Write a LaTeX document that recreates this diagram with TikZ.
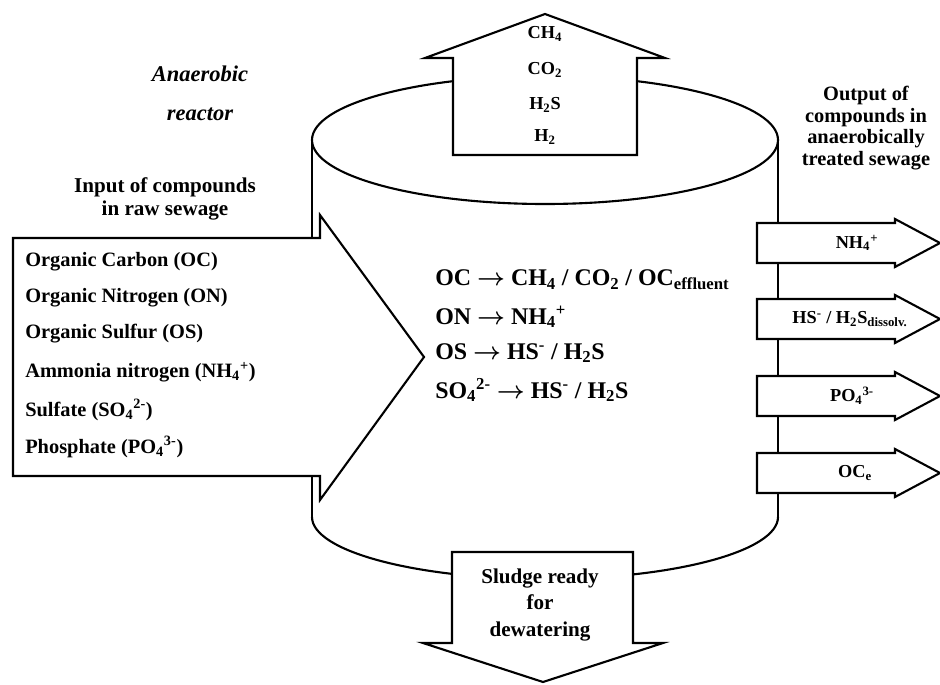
\documentclass[tikz,border=0pt]{standalone}
\usepackage{fontspec}
\setmainfont{Liberation Serif}
\newcommand{\ionsub}[2]{\textsubscript{#1}\textsuperscript{#2}}
\tikzstyle{shell} = [draw, line width=1.5pt]
\tikzstyle{blockarrow} = [draw, line width=1.5pt, fill=white, line join=miter]
\tikzstyle{headtext} = [font=\fontsize{15}{16}\selectfont\bfseries, align=center, inner sep=0pt]
\tikzstyle{reactortext} = [font=\fontsize{16}{28}\selectfont\bfseries\itshape, align=center, inner sep=0pt]
\tikzstyle{listtext} = [font=\fontsize{14.5}{16}\selectfont\bfseries, anchor=west, inner sep=0pt]
\tikzstyle{eqtext} = [font=\fontsize{17}{20}\selectfont\bfseries, anchor=west, inner sep=0pt]
\tikzstyle{gastext} = [font=\fontsize{13}{15}\selectfont\bfseries, inner sep=0pt]
\tikzstyle{outtext} = [font=\fontsize{13}{15}\selectfont\bfseries, inner sep=0pt]
\begin{document}
\begin{tikzpicture}[x=0.025cm, y=-0.025cm]
    \useasboundingbox (0,0) rectangle (940,684);

    % Reactor body
    \draw [shell] (545,140) ellipse [x radius=233, y radius=64];
    \draw [shell] (312,140) -- (312,517);
    \draw [shell] (778,140) -- (778,517);
    \draw [shell] (312,517) arc [start angle=180, end angle=0, x radius=233, y radius=62];

    % Gas outlet
    \draw [blockarrow] (453,155) -- (453,58) -- (425,58) -- (545,14) -- (665,58) -- (637,58) -- (637,155) -- cycle;

    % Sludge outlet
    \draw [blockarrow] (452,552) -- (633,552) -- (633,643) -- (663,643) -- (543,682) -- (423,643) -- (452,643) -- cycle;

    % Input arrow
    \draw [blockarrow] (13,238) -- (320,238) -- (320,215) -- (424,357) -- (320,500) -- (320,476) -- (13,476) -- cycle;

    % Output arrows, named from the top
    \draw [blockarrow] (757,223) -- (895,223) -- (895,219) -- (940,243) -- (895,267) -- (895,263) -- (757,263) -- cycle;
    \draw [blockarrow] (757,299) -- (895,299) -- (895,295) -- (940,319) -- (895,343) -- (895,339) -- (757,339) -- cycle;
    \draw [blockarrow] (757,376) -- (895,376) -- (895,372) -- (940,396) -- (895,420) -- (895,416) -- (757,416) -- cycle;
    \draw [blockarrow] (757,453) -- (895,453) -- (895,449) -- (940,473) -- (895,497) -- (895,493) -- (757,493) -- cycle;

    % Labels
    \node (reactor_label) [reactortext] at (200,93) {Anaerobic\\reactor};
    \node (input_label) [headtext] at (165,199) {Input of compounds\\in raw sewage};
    \node (output_label) [headtext, font=\fontsize{14.5}{15.5}\selectfont\bfseries] at (866,128) {Output of\\compounds in\\anaerobically\\treated sewage};

    % Gases
    \node (gas_ch) [gastext] at (545,34) {CH\textsubscript{4}};
    \node (gas_co) [gastext] at (545,70) {CO\textsubscript{2}};
    \node (gas_hs) [gastext] at (545,105) {H\textsubscript{2}S};
    \node (gas_h) [gastext] at (545,137) {H\textsubscript{2}};

    % Input compounds
    \node (in_oc) [listtext] at (25,262) {Organic Carbon (OC)};
    \node (in_on) [listtext] at (25,298) {Organic Nitrogen (ON)};
    \node (in_os) [listtext] at (25,334) {Organic Sulfur (OS)};
    \node (in_nh) [listtext] at (25,372) {Ammonia nitrogen (NH\ionsub{4}{+})};
    \node (in_so) [listtext] at (25,410) {Sulfate (SO\ionsub{4}{2-})};
    \node (in_po) [listtext] at (25,447) {Phosphate (PO\ionsub{4}{3-})};

    % Conversions
    \node (eq_oc) [eqtext] at (435,280) {OC {\boldmath$\rightarrow$} CH\textsubscript{4} / CO\textsubscript{2} / OC\textsubscript{effluent}};
    \node (eq_on) [eqtext] at (435,317) {ON {\boldmath$\rightarrow$} NH\ionsub{4}{+}};
    \node (eq_os) [eqtext] at (435,353) {OS {\boldmath$\rightarrow$} HS\textsuperscript{-} / H\textsubscript{2}S};
    \node (eq_so) [eqtext] at (435,390) {SO\ionsub{4}{2-} {\boldmath$\rightarrow$} HS\textsuperscript{-} / H\textsubscript{2}S};

    % Sludge
    \node (sludge) [headtext, font=\fontsize{15}{19}\selectfont\bfseries] at (540,605) {Sludge ready\\for\\dewatering};

    % Outputs
    \node (out_nh) [outtext] at (857,243) {NH\ionsub{4}{+}};
    \node (out_hs) [outtext] at (850,319) {HS\textsuperscript{-} / H\textsubscript{2}S\textsubscript{dissolv.}};
    \node (out_po) [outtext] at (852,396) {PO\ionsub{4}{3-}};
    \node (out_oc) [outtext] at (855,473) {OC\textsubscript{e}};

\end{tikzpicture}
\end{document}
